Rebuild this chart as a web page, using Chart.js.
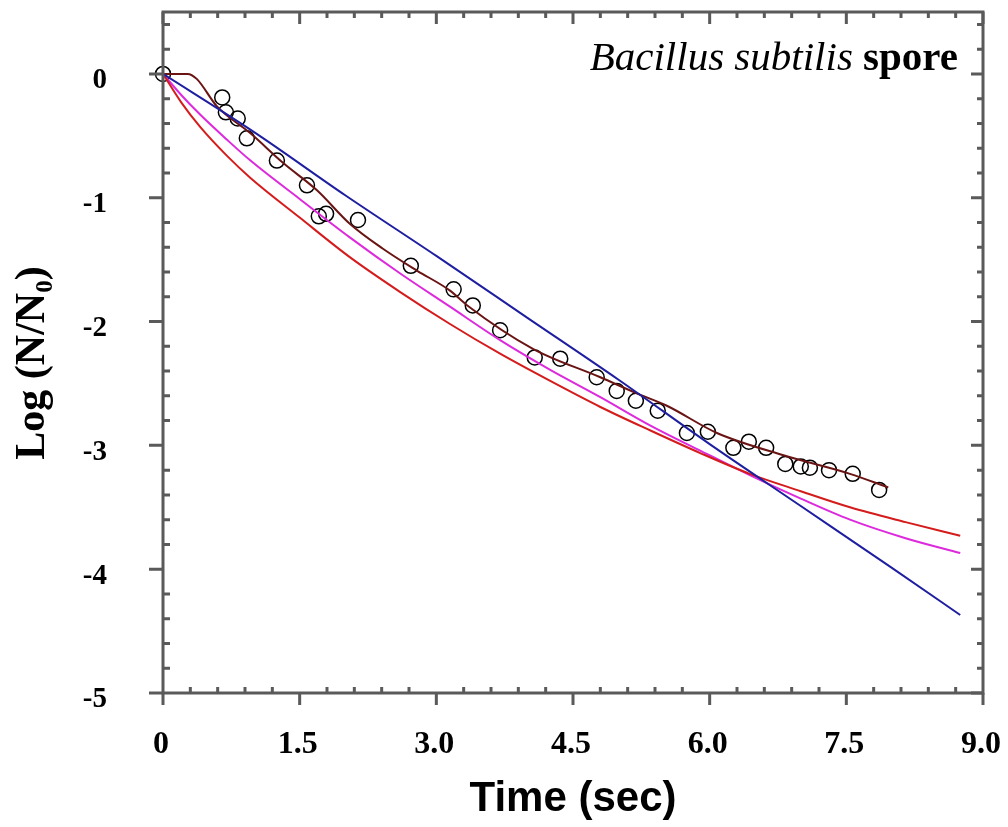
<!DOCTYPE html>
<html>
<head>
<meta charset="utf-8">
<script src="https://cdn.jsdelivr.net/npm/chart.js@4.4.0/dist/chart.umd.min.js"></script>
<style>
  body { margin: 0; background: #fff; }
  canvas { display: block; }
</style>
</head>
<body>
<canvas id="chart" width="1008" height="827"></canvas>
<script>
// measured survivors
const obsTime = [0, 0.65, 0.69, 0.82, 0.92, 1.25, 1.58, 1.71, 1.79, 2.14, 2.72, 3.19, 3.40, 3.70, 4.08, 4.36, 4.76, 4.98, 5.19, 5.43, 5.75, 5.98, 6.26, 6.43, 6.62, 6.83, 7.00, 7.10, 7.31, 7.57, 7.86];
const obsLog = [0, -0.19, -0.31, -0.36, -0.52, -0.70, -0.90, -1.15, -1.13, -1.18, -1.55, -1.74, -1.87, -2.07, -2.29, -2.30, -2.45, -2.56, -2.64, -2.72, -2.90, -2.89, -3.02, -2.97, -3.02, -3.15, -3.17, -3.18, -3.20, -3.23, -3.36];

// fitted curves
const blueTime = [0, 1, 2, 3, 4, 5, 6, 7, 8, 8.75];
const blueLog = [0, -0.47, -0.98, -1.47, -1.97, -2.47, -2.99, -3.49, -3.99, -4.37];

const redTime = [0, 0.2, 0.41, 0.7, 0.96, 1.5, 2.05, 2.6, 3.15, 3.7, 4.25, 4.8, 5.35, 5.89, 6.44, 7.0, 7.54, 8.15, 8.75];
const redLog = [0, -0.23, -0.43, -0.66, -0.84, -1.16, -1.48, -1.76, -2.02, -2.26, -2.48, -2.69, -2.88, -3.06, -3.23, -3.37, -3.5, -3.62, -3.73];

const magTime = [0, 0.2, 0.41, 0.7, 0.96, 1.5, 2.05, 2.6, 3.15, 3.7, 4.25, 4.8, 5.35, 5.89, 6.44, 7.0, 7.54, 8.15, 8.75];
const magLog = [0, -0.17, -0.33, -0.53, -0.70, -1.01, -1.32, -1.61, -1.88, -2.15, -2.39, -2.61, -2.84, -3.04, -3.24, -3.43, -3.6, -3.75, -3.87];

const brownTime = [0, 0.27, 0.37, 0.59, 0.96, 1.32, 1.69, 2.05, 2.41, 2.79, 3.15, 3.34, 4.06, 4.80, 5.20, 5.53, 6.08, 6.81, 7.54, 7.96];
const brownLog = [0, 0, -0.04, -0.26, -0.48, -0.72, -0.94, -1.21, -1.41, -1.59, -1.75, -1.87, -2.22, -2.45, -2.58, -2.68, -2.90, -3.08, -3.23, -3.34];

const xTicks = [0, 1.5, 3, 4.5, 6, 7.5, 9];
const xTickLabels = ['0', '1.5', '3.0', '4.5', '6.0', '7.5', '9.0'];
const yTicks = [-5, -4, -3, -2, -1, 0];
const yTickLabels = ['-5', '-4', '-3', '-2', '-1', '0'];

const pts = (xs, ys) => xs.map((x, i) => ({ x: x, y: ys[i] }));

function lineSet(xs, ys, color) {
  return {
    data: pts(xs, ys),
    showLine: true,
    borderColor: color,
    borderWidth: 2,
    pointRadius: 0,
    cubicInterpolationMode: 'monotone',
    fill: false
  };
}

function noPad(s) {
  s.paddingTop = 0;
  s.paddingBottom = 0;
  s.paddingLeft = 0;
  s.paddingRight = 0;
}

// frame with tick marks, like the original plotting program
const framePlugin = {
  id: 'frame',
  afterDraw(chart) {
    const ctx = chart.ctx;
    const a = chart.chartArea;
    const xs = chart.scales.x;
    const ys = chart.scales.y;
    ctx.save();
    ctx.strokeStyle = '#5a5a5a';
    ctx.lineWidth = 3;
    ctx.strokeRect(a.left, a.top, a.right - a.left, a.bottom - a.top);
    ctx.beginPath();
    for (let i = 0; i <= 30; i++) {
      const px = xs.getPixelForValue(i * 0.3);
      if (i % 5 === 0) {
        ctx.moveTo(px, a.bottom); ctx.lineTo(px, a.bottom + 12);
        ctx.moveTo(px, a.top); ctx.lineTo(px, a.top + 12);
      } else {
        ctx.moveTo(px, a.bottom); ctx.lineTo(px, a.bottom - 6);
        ctx.moveTo(px, a.top); ctx.lineTo(px, a.top + 6);
      }
    }
    for (let i = 0; i <= 27; i++) {
      const py = ys.getPixelForValue(-5 + i * 0.2);
      if (i % 5 === 0) {
        ctx.moveTo(a.left, py); ctx.lineTo(a.left - 14, py);
        ctx.moveTo(a.right, py); ctx.lineTo(a.right - 12, py);
      } else {
        ctx.moveTo(a.left, py); ctx.lineTo(a.left + 7, py);
        ctx.moveTo(a.right, py); ctx.lineTo(a.right - 6, py);
      }
    }
    ctx.stroke();

    // species label
    ctx.fillStyle = '#000';
    ctx.textBaseline = 'alphabetic';
    ctx.textAlign = 'right';
    ctx.font = 'bold 41px "Liberation Serif"';
    const right = a.right - 25;
    const base = a.top + 58;
    ctx.fillText('spore', right, base);
    const w = ctx.measureText(' spore').width;
    ctx.font = 'italic 41px "Liberation Serif"';
    ctx.fillText('Bacillus subtilis', right - w, base);
    ctx.restore();
  }
};

new Chart(document.getElementById('chart'), {
  type: 'scatter',
  data: {
    datasets: [
      lineSet(blueTime, blueLog, '#1e1ea0'),
      lineSet(redTime, redLog, '#d41c1c'),
      lineSet(magTime, magLog, '#dc2adc'),
      lineSet(brownTime, brownLog, '#6a1414'),
      {
        data: pts(obsTime, obsLog),
        pointRadius: 7.5,
        pointBorderWidth: 1.5,
        pointBorderColor: '#000',
        pointBackgroundColor: 'rgba(0,0,0,0)',
        showLine: false,
        clip: false
      }
    ]
  },
  plugins: [framePlugin],
  options: {
    responsive: false,
    animation: false,
    layout: { padding: { top: 12, right: 25, left: 0, bottom: 0 } },
    plugins: { legend: { display: false }, tooltip: { enabled: false } },
    scales: {
      x: {
        type: 'linear',
        min: 0,
        max: 9,
        afterBuildTicks: s => { s.ticks = xTicks.map(v => ({ value: v })); },
        afterFit: s => { s.height = 134; noPad(s); },
        grid: { display: false, drawTicks: false },
        border: { display: false },
        ticks: {
          padding: 33,
          labelOffset: -2,
          color: '#000',
          maxRotation: 0,
          font: { family: 'Liberation Serif', weight: 'bold', size: 32 },
          callback: v => xTickLabels[xTicks.indexOf(v)]
        },
        title: {
          display: true,
          text: 'Time (sec)',
          color: '#000',
          padding: { top: 0, bottom: 2 },
          font: { family: 'Liberation Sans', weight: 'bold', size: 42 }
        }
      },
      y: {
        type: 'linear',
        min: -5,
        max: 0.5,
        afterBuildTicks: s => { s.ticks = yTicks.map(v => ({ value: v })); },
        afterFit: s => { s.width = 163; noPad(s); },
        grid: { display: false, drawTicks: false },
        border: { display: false },
        ticks: {
          padding: 56,
          labelOffset: 7,
          color: '#000',
          font: { family: 'Liberation Serif', weight: 'bold', size: 29 },
          callback: v => yTickLabels[yTicks.indexOf(v)]
        },
        title: {
          display: true,
          text: 'Log (N/N\u2080)  ',
          color: '#000',
          padding: { top: 8, bottom: 0 },
          font: { family: 'Liberation Serif', weight: 'bold', size: 42 }
        }
      }
    }
  }
});
</script>
</body>
</html>
